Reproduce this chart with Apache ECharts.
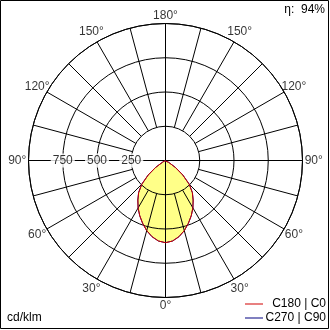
<!DOCTYPE html>
<html><head><meta charset="utf-8">
<script src="https://cdn.jsdelivr.net/npm/echarts@6/dist/echarts.min.js"></script>
<style>html,body{margin:0;padding:0;background:#fff}#c{width:330px;height:330px}</style>
</head><body><div id="c"></div>
<script>
// gamma angles (deg from nadir) and luminous intensity (cd/klm)
const gammaDeg = [0,5,10,15,20,25,30,35,40,45,50,55,60,65,70,75,80,85,90,95,100,105,110,115,120,125,130,135,140,145,150,155,160,165,170,175,180];
const c0   = [600,590,565,530,488,445,400,352,305,245,165,88,25,5,0,0,0,0,0,0,0,0,0,0,0,0,0,0,0,0,0,0,0,0,0,0,0];
const c180 = [600,590,565,530,488,445,400,352,305,245,165,88,25,5,0,0,0,0,0,0,0,0,0,0,0,0,0,0,0,0,0,0,0,0,0,0,0];
const c90  = [600,590,565,530,488,445,400,352,305,245,165,88,25,5,0,0,0,0,0,0,0,0,0,0,0,0,0,0,0,0,0,0,0,0,0,0,0];
const c270 = [600,590,565,530,488,445,400,352,305,245,165,88,25,5,0,0,0,0,0,0,0,0,0,0,0,0,0,0,0,0,0,0,0,0,0,0,0];
const radiusTicks = [250, 500, 750];
const radiusTickLabels = ['250', '500', '750'];
const angleTicks = [0,30,60,90,120,150,180,210,240,270,300,330];
const spokeAngles = [0,15,30,45,60,75,90,105,120,135,150,165,180,195,210,225,240,255,270,285,300,315,330,345];
const seriesNames = ['C180 | C0', 'C270 | C90'];
const seriesColors = ['#D00000', '#000080'];
const efficiencyText = 'η:  94%';
const unitText = 'cd/klm';
const rMax = 1000;

const FONT = 'Liberation Sans, Arial, sans-serif';

function curve(left, right) {
  const pts = [];
  for (let i = 0; i < gammaDeg.length; i++) pts.push([left[i], gammaDeg[i]]);
  for (let i = gammaDeg.length - 1; i >= 0; i--) pts.push([right[i], 360 - gammaDeg[i]]);
  return pts;
}

const chart = echarts.init(document.getElementById('c'), null, {renderer: 'canvas'});
chart.setOption({
  animation: false,
  textStyle: {fontFamily: FONT, fontSize: 12, color: '#000'},
  polar: {center: [165.5, 160.5], radius: 137},
  angleAxis: {
    type: 'value', min: 0, max: 360, startAngle: 270, clockwise: true,
    axisLine: {show: true, lineStyle: {color: '#000', width: 1}},
    axisTick: {show: false}, axisLabel: {show: false}, splitLine: {show: false}, z: 3
  },
  radiusAxis: {
    type: 'value', min: 0, max: rMax, interval: 250,
    axisLine: {show: false}, axisTick: {show: false}, axisLabel: {show: false},
    splitLine: {show: true, lineStyle: {color: '#000', width: 1}}, z: 3
  },
  legend: {
    data: seriesNames.map((n, i) => ({name: n, icon: 'rect', itemStyle: {color: seriesColors[i]}})),
    orient: 'vertical', right: 4, bottom: 5, padding: 0,
    itemWidth: 18, itemHeight: 1, itemGap: 0, selectedMode: false,
    formatter: name => '{t|' + name + '}',
    textStyle: {rich: {t: {width: 58, height: 14, lineHeight: 14, align: 'right', fontSize: 12, fontFamily: FONT, color: '#000'}}}
  },
  graphic: [
    {type: 'rect', shape: {x: 0.5, y: 0.5, width: 328, height: 328}, style: {fill: 'none', stroke: '#000', lineWidth: 1}, z: 100},
    {type: 'text', right: 5, top: 4, style: {text: efficiencyText, font: '12px ' + FONT, fill: '#000'}},
    {type: 'text', left: 7, top: 312, style: {text: unitText, font: '12px ' + FONT, fill: '#000'}}
  ],
  series: [
    {
      name: 'fill', type: 'line', coordinateSystem: 'polar', silent: true, z: 1,
      symbol: 'none', lineStyle: {width: 0}, areaStyle: {color: '#FFFF88', opacity: 1},
      data: curve(c180, c0)
    },
    {
      type: 'custom', coordinateSystem: 'polar', silent: true, z: 4,
      data: spokeAngles.map(a => [a % 90 === 0 ? 0 : radiusTicks[0], a]),
      renderItem: function (params, api) {
        const p1 = api.coord([api.value(0), api.value(1)]);
        const p2 = api.coord([rMax, api.value(1)]);
        return {type: 'line', shape: {x1: p1[0], y1: p1[1], x2: p2[0], y2: p2[1]}, style: {stroke: '#000', lineWidth: 1}};
      }
    },
    {
      name: seriesNames[1], type: 'line', coordinateSystem: 'polar', z: 9, silent: true,
      symbol: 'none', lineStyle: {color: seriesColors[1], width: 1}, itemStyle: {color: seriesColors[1]},
      data: curve(c270, c90)
    },
    {
      name: seriesNames[0], type: 'line', coordinateSystem: 'polar', z: 10, silent: true,
      symbol: 'none', lineStyle: {color: seriesColors[0], width: 1}, itemStyle: {color: seriesColors[0]},
      data: curve(c180, c0)
    },
    {
      type: 'scatter', coordinateSystem: 'polar', z: 20, silent: true, clip: false,
      symbolSize: 1, itemStyle: {color: 'rgba(0,0,0,0)'},
      data: radiusTicks.map(r => [r, 90]),
      label: {show: true, position: 'inside', formatter: p => radiusTickLabels[p.dataIndex],
        backgroundColor: '#fff', padding: [1, 2], fontSize: 12, fontFamily: FONT, color: '#000'}
    },
    {
      type: 'scatter', coordinateSystem: 'polar', z: 20, silent: true, clip: false,
      symbolSize: 1, itemStyle: {color: 'rgba(0,0,0,0)'},
      data: angleTicks.map(a => [a % 180 === 0 ? 1058 : 1082, a]),
      label: {show: true, position: 'inside', formatter: p => {
          const a = angleTicks[p.dataIndex];
          return (a <= 180 ? a : 360 - a) + '°';
        }, fontSize: 12, fontFamily: FONT, color: '#000'}
    }
  ]
});
</script>
</body></html>
